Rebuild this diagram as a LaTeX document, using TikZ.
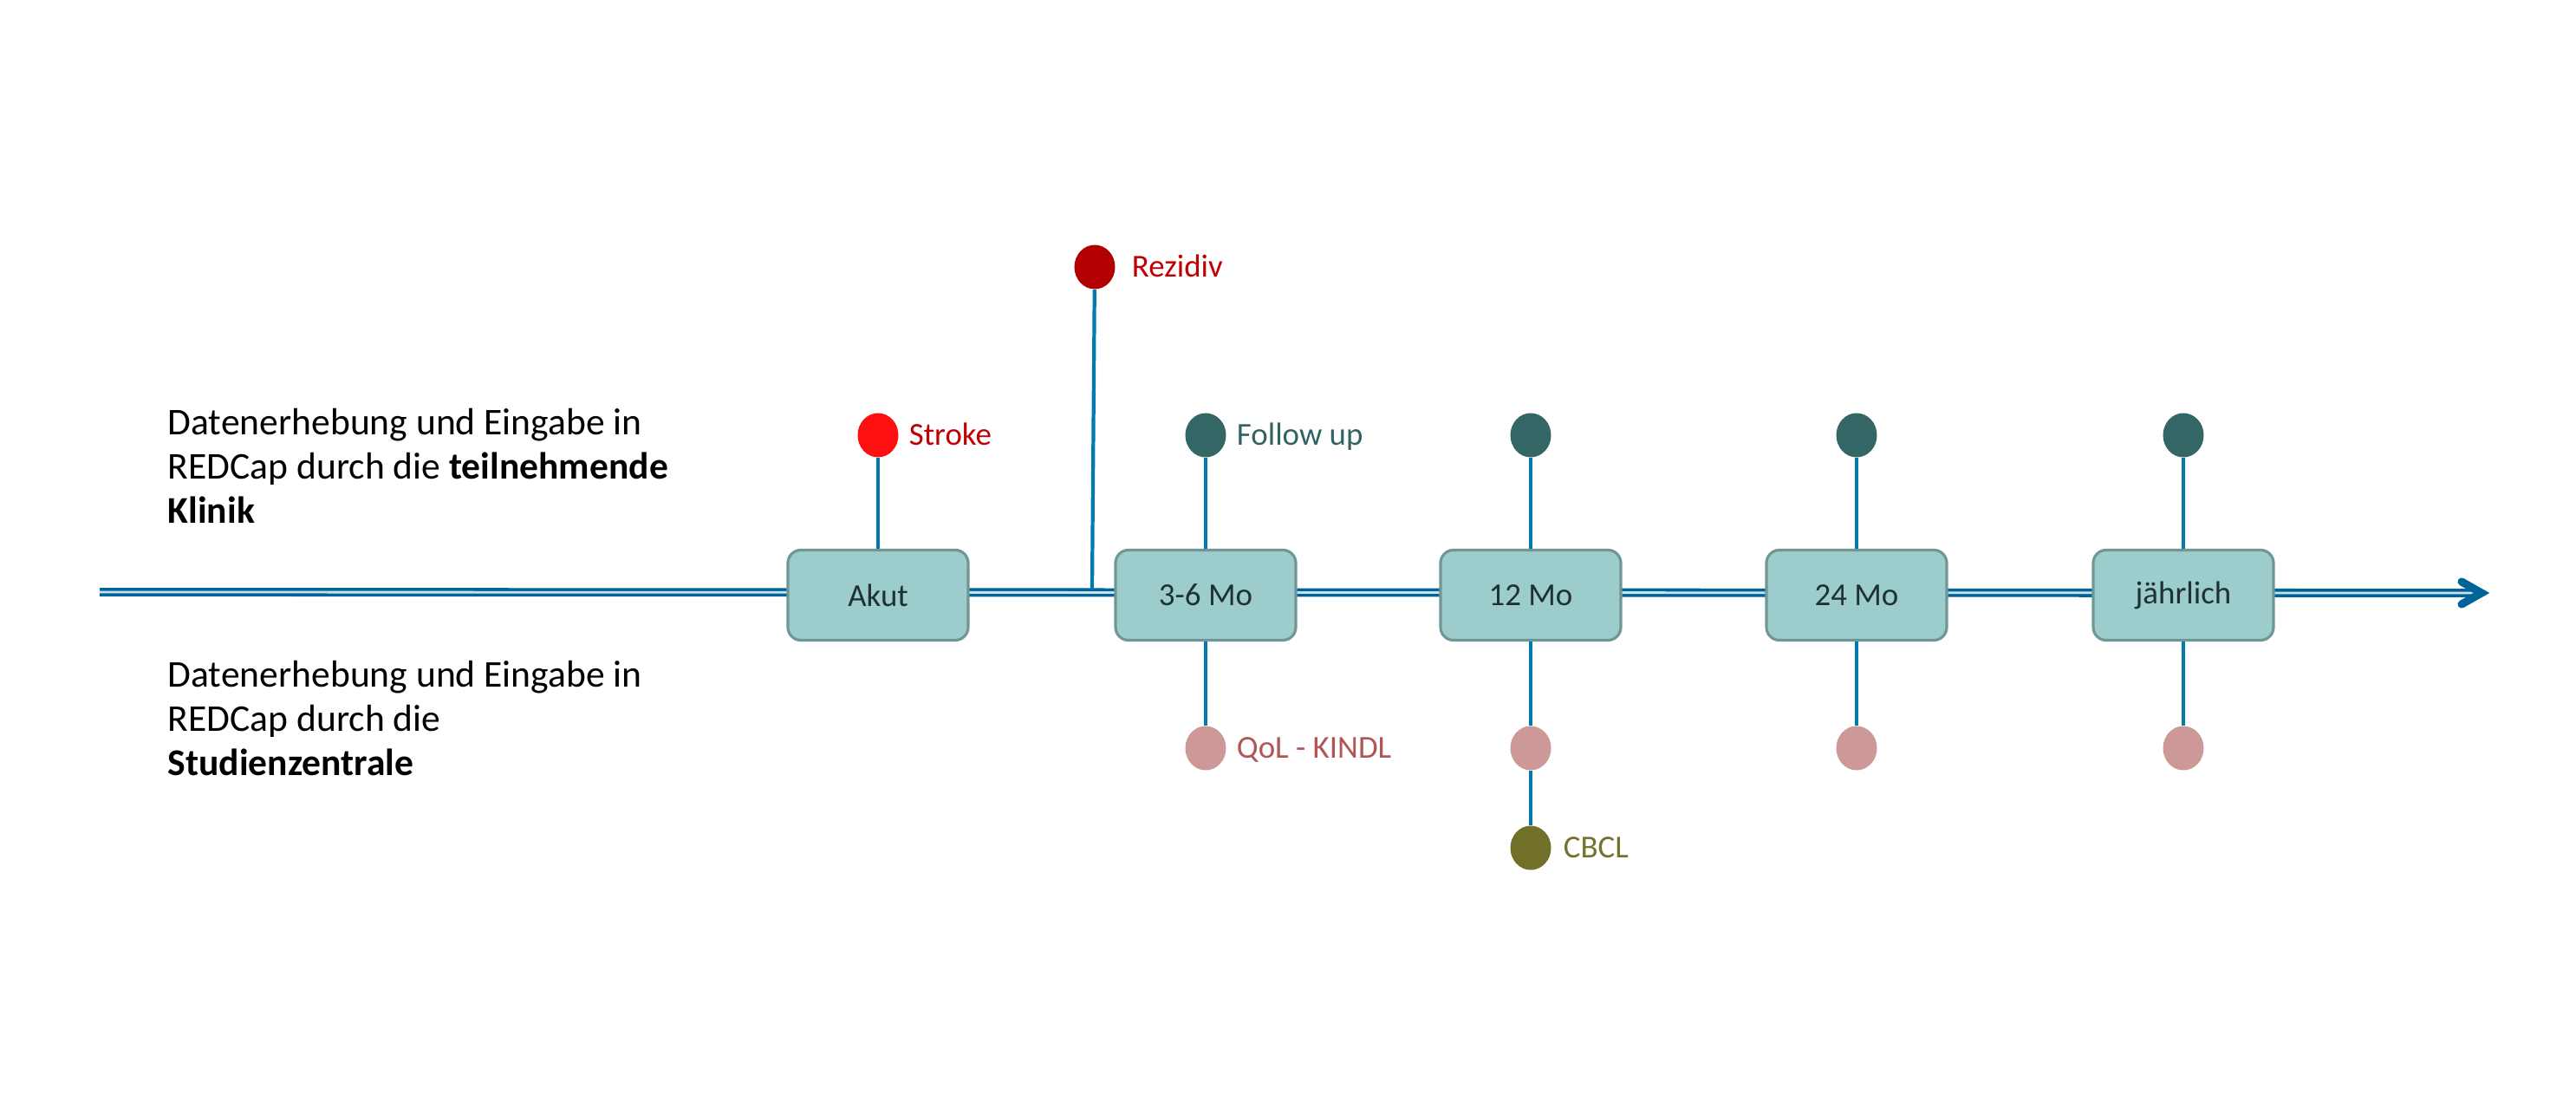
\documentclass[tikz,border=0pt]{standalone}
\usepackage{fontspec}
\setmainfont{Carlito}
\usetikzlibrary{shapes.geometric, arrows.meta, positioning}

\definecolor{lineblue}{RGB}{0,100,152}
\definecolor{linelight}{RGB}{200,225,238}
\definecolor{stemblue}{RGB}{0,122,175}
\definecolor{boxfill}{RGB}{156,204,204}
\definecolor{boxline}{RGB}{112,150,150}
\definecolor{boxtext}{RGB}{30,50,50}
\definecolor{strokered}{RGB}{255,16,16}
\definecolor{rezred}{RGB}{178,0,0}
\definecolor{tagred}{RGB}{192,0,0}
\definecolor{fudot}{RGB}{52,102,102}
\definecolor{futext}{RGB}{49,99,99}
\definecolor{qoldot}{RGB}{204,152,152}
\definecolor{qoltext}{RGB}{176,86,86}
\definecolor{cbcldot}{RGB}{112,112,40}
\definecolor{cbcltext}{RGB}{118,113,43}

\begin{document}
\begin{tikzpicture}[
  timeline/.style={draw=lineblue, line width=1pt, double=linelight, double distance=0.8pt},
  tiphead/.style={draw=lineblue, line width=2.6pt, line cap=round, line join=miter},
  stem/.style={draw=stemblue, line width=1.2pt},
  visit/.style={rectangle, rounded corners=1.5mm, draw=boxline, line width=0.9pt, fill=boxfill,
    minimum width=2.08cm, minimum height=1.04cm, text=boxtext, font=\fontsize{10.5}{12}\selectfont},
  dot/.style={ellipse, minimum width=0.47cm, minimum height=0.51cm, inner sep=0pt},
  tag/.style={font=\fontsize{10.5}{12}\selectfont, inner sep=0pt, text height=0.644em, text depth=0pt},
  note/.style={align=left, font=\fontsize{12.4}{14.5}\selectfont, inner sep=0pt, anchor=north west},
  node distance=0.11cm
]

\useasboundingbox (0,0) rectangle (29.72,-12.85);

% Zeitstrahl
\coordinate (tstart) at (1.15,-6.83);
\coordinate (tend) at (28.63,-6.84);
\draw[timeline] (tstart) -- (tend);
\draw[tiphead] ([shift={(-0.23,0.13)}]tend) -- (tend) -- ([shift={(-0.23,-0.13)}]tend);

% Zeitpunkte
\node[visit] (akut) at (10.13,-6.865) {Akut};
\node[visit] (mo3) at (13.91,-6.865) {3-6 Mo};
\node[visit] (mo12) at (17.66,-6.865) {12 Mo};
\node[visit] (mo24) at (21.42,-6.865) {24 Mo};
\node[visit] (yearly) at (25.19,-6.865) {jährlich};

% Ereignisse oben
\node[dot, fill=strokered] (stroke) at (10.13,-5.02) {};
\node[tag, text=tagred, right=of stroke] (strokelbl) {Stroke};
\node[dot, fill=rezred] (rez) at (12.63,-3.08) {};
\node[tag, text=tagred, right=0.18cm of rez] (rezlbl) {Rezidiv};
\coordinate (rezfoot) at (12.60,-6.80);

\node[dot, fill=fudot] (fu1) at (13.91,-5.02) {};
\node[tag, text=futext, right=of fu1] (fulbl) {Follow up};
\node[dot, fill=fudot] (fu2) at (17.66,-5.02) {};
\node[dot, fill=fudot] (fu3) at (21.42,-5.02) {};
\node[dot, fill=fudot] (fu4) at (25.19,-5.02) {};

% Fragebögen unten
\node[dot, fill=qoldot] (qol1) at (13.91,-8.63) {};
\node[tag, text=qoltext, right=of qol1] (qollbl) {QoL - KINDL};
\node[dot, fill=qoldot] (qol2) at (17.66,-8.63) {};
\node[dot, fill=qoldot] (qol3) at (21.42,-8.63) {};
\node[dot, fill=qoldot] (qol4) at (25.19,-8.63) {};
\node[dot, fill=cbcldot] (cbcl) at (17.66,-9.78) {};
\node[tag, text=cbcltext, right=0.13cm of cbcl] (cbcllbl) {CBCL};

% Linien
\draw[stem] (stroke) -- (akut);
\draw[stem] (rez) -- (rezfoot);
\draw[stem] (fu1) -- (mo3);
\draw[stem] (fu2) -- (mo12);
\draw[stem] (fu3) -- (mo24);
\draw[stem] (fu4) -- (yearly);
\draw[stem] (mo3) -- (qol1);
\draw[stem] (mo12) -- (qol2);
\draw[stem] (qol2) -- (cbcl);
\draw[stem] (mo24) -- (qol3);
\draw[stem] (yearly) -- (qol4);

% Beschriftung links
\node[note] (clinic) at (1.93,-4.71)
  {Datenerhebung und Eingabe in\\REDCap durch die \textbf{teilnehmende}\\\textbf{Klinik}};
\node[note] (central) at (1.93,-7.62)
  {Datenerhebung und Eingabe in\\REDCap durch die\\\textbf{Studienzentrale}};

\end{tikzpicture}
\end{document}
